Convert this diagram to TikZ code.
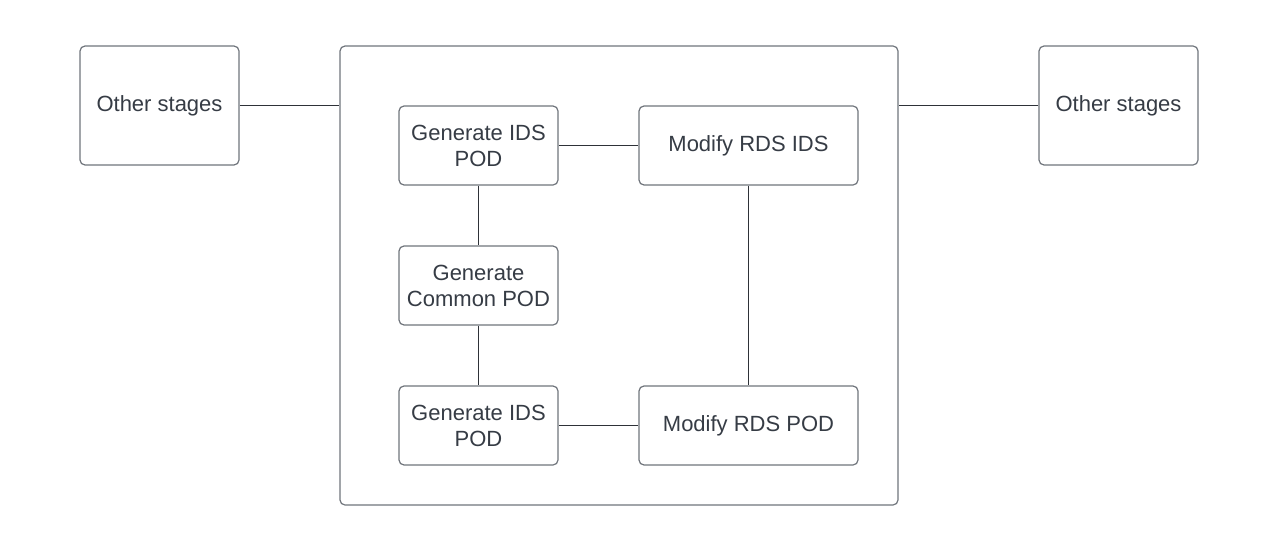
\documentclass[tikz,border=0pt]{standalone}
\usepackage{fontspec}
\setmainfont{Liberation Sans}
\usetikzlibrary{positioning}

\definecolor{boxline}{HTML}{70757C}
\definecolor{wireline}{HTML}{2E3238}
\definecolor{labeltext}{HTML}{363C45}

\tikzset{
  stagebox/.style={draw=boxline, line width=1.2pt, rounded corners=5pt, fill=white,
    text=labeltext, align=center, font=\fontsize{22}{26}\selectfont,
    minimum width=159pt, minimum height=79pt, inner sep=0pt},
  wire/.style={draw=wireline, line width=1.1pt}
}

\begin{document}
\begin{tikzpicture}[x=1pt,y=-1pt]
\useasboundingbox (0,0) rectangle (1277,551);

% outer stage and its neighbours
\node[stagebox, minimum width=558pt, minimum height=459pt] (stage) at (619,275.5) {};
\node[stagebox, minimum height=119pt] (otherL) at (159.5,105.5) {Other stages};
\node[stagebox, minimum height=119pt] (otherR) at (1118.5,105.5) {Other stages};

% inner steps
\node[stagebox] (genTop) at (478.5,145.5) {Generate IDS\\POD};
\node[stagebox, minimum width=219pt] (modIds) at (748.5,145.5) {Modify RDS IDS};
\node[stagebox] (genCommon) at (478.5,285.5) {Generate\\Common POD};
\node[stagebox] (genBot) at (478.5,425.5) {Generate IDS\\POD};
\node[stagebox, minimum width=219pt] (modPod) at (748.5,425.5) {Modify RDS POD};

% connectors
\draw[wire] (otherL.east) -- (otherL.east -| stage.west);
\draw[wire] (otherR.west) -- (otherR.west -| stage.east);
\draw[wire] (genTop) -- (modIds);
\draw[wire] (genTop) -- (genCommon);
\draw[wire] (genCommon) -- (genBot);
\draw[wire] (genBot) -- (modPod);
\draw[wire] (modIds) -- (modPod);

\end{tikzpicture}
\end{document}
